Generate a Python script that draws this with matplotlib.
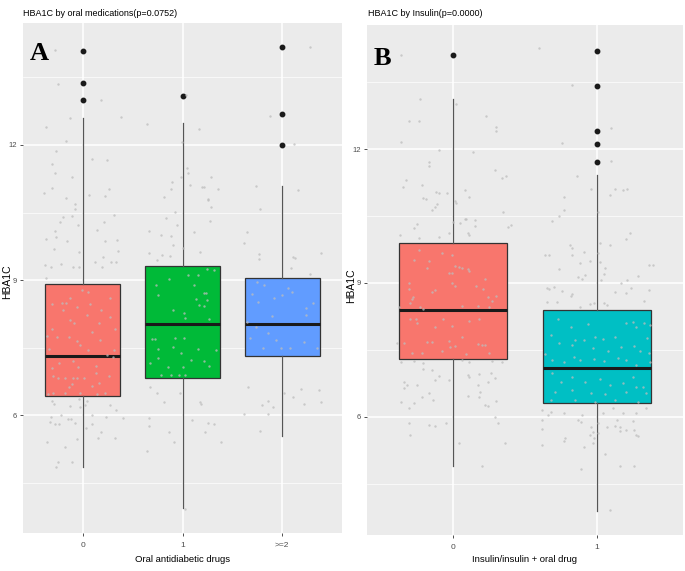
import matplotlib
matplotlib.use('Agg')
import matplotlib.pyplot as plt

# panel A: HBA1C by number of oral drugs
a_groups = ['0', '1', '>=2']
a_q1 = [6.42, 6.82, 7.31]
a_med = [7.31, 8.02, 8.02]
a_q3 = [8.92, 9.31, 9.05]
a_lo = [4.84, 3.93, 5.53]
a_hi = [12.6, 12.49, 11.09]
a_out = [[14.09, 13.38, 13.0], [13.09], [14.18, 12.69, 12.0]]
a_fill = ['#F8766D', '#00BA38', '#619CFF']

# panel B: HBA1C by insulin use
b_groups = ['0', '1']
b_q1 = [7.30, 6.30]
b_med = [8.39, 7.09]
b_q3 = [9.89, 8.39]
b_lo = [4.89, 3.88]
b_hi = [13.12, 11.42]
b_out = [[14.11], [14.2, 13.41, 12.4, 12.11, 11.7]]
b_fill = ['#F8766D', '#00BFC4']

# jittered raw points (offset from group centre, HBA1C)
a0_pts = [(-0.28,14.11),(-0.25,13.36),(0.18,13.0),(-0.13,12.6),(-0.37,12.4),(0.38,12.62),(-0.17,12.09),
          (-0.27,11.87),(-0.31,11.58),(-0.28,11.38),(-0.11,11.29),(0.09,11.69),(0.24,11.67),(-0.31,11.04),
          (-0.39,10.93),(-0.17,10.82),(0.06,10.89),(0.22,10.87),(0.26,11.02),(-0.08,10.69),(-0.08,10.58),
          (-0.11,10.42),(-0.2,10.4),(-0.23,10.29),(-0.05,10.22),(-0.28,10.09),(-0.27,9.96),(-0.37,9.91),
          (-0.16,9.87),(-0.29,9.69),(-0.04,9.62),(-0.38,9.33),(-0.32,9.29),(-0.22,9.36),(-0.1,9.29),
          (0.31,10.44),(0.21,10.29),(0.14,10.11),(0.22,9.87),(0.34,9.89),(0.35,9.64),(0.2,9.51),(0.12,9.4),
          (0.28,9.4),(0.33,9.4),(0.19,9.29),(-0.04,9.29),(-0.37,9.04),(-0.01,8.78),(0.05,8.73),(-0.13,8.6),
          (0.27,8.6),(-0.21,8.49),(-0.17,8.49),(-0.31,8.47),(0.07,8.47),(-0.06,8.4),(0.18,8.33),(-0.2,8.33),
          (0.04,8.22),(0.27,8.18),(-0.13,8.11),(-0.09,8.04),(0.16,8.04),(-0.31,7.91),(0.09,7.84),(0.32,7.91),
          (-0.36,7.76),(-0.26,7.73),(-0.14,7.73),(-0.06,7.64),(0.17,7.67),(-0.03,7.56),(0.05,7.44),
          (-0.34,7.47),(0.31,7.44),(0.24,7.33),(0.3,7.29),(-0.31,7.04),(-0.24,7.16),(-0.1,7.2),(-0.05,7.07),
          (0.13,7.09),(-0.18,6.82),(-0.1,6.82),(-0.06,6.82),(0.01,6.82),(-0.3,6.87),(-0.25,6.82),(0.26,6.87),
          (0.13,6.93),(-0.14,6.62),(-0.11,6.69),(0.09,6.64),(0.16,6.71),(-0.3,6.5),(-0.18,6.48),(-0.03,6.5),
          (0.14,6.47),(0.22,6.5),(-0.35,6.47),(-0.29,6.24),(0.27,6.22),(-0.31,6.31),(0.04,6.31),(0.02,6.22),
          (-0.04,6.36),(-0.13,6.2),(-0.03,6.18),(0.33,6.12),(-0.32,5.96),(-0.33,5.84),(-0.22,6.0),(-0.28,5.8),
          (-0.24,5.8),(-0.15,5.91),(-0.12,5.91),(-0.08,5.82),(0.03,5.71),(0.09,6.0),(0.09,5.8),(0.18,5.62),
          (0.15,5.49),(0.23,5.96),(0.32,5.49),(-0.36,5.4),(-0.06,5.47),(-0.18,5.29),(-0.25,4.96),(-0.27,4.84),
          (-0.11,4.96),(0.4,5.93)]
a1_pts = [(-0.36,12.47),(0.04,13.11),(0.17,12.36),(-0.01,12.07),(0.05,11.49),(0.06,11.38),(-0.02,11.29),
          (-0.11,11.18),(-0.12,11.02),(-0.19,10.84),(0.08,11.11),(0.2,11.07),(0.22,11.07),(0.29,11.29),
          (0.36,11.02),(0.26,10.8),(-0.08,10.51),(-0.17,10.38),(-0.06,10.22),(-0.34,10.09),(-0.22,10.0),
          (-0.12,9.98),(-0.1,9.78),(0.0,9.71),(-0.34,9.6),(-0.21,9.56),(-0.26,9.44),(-0.13,9.53),(0.26,10.78),
          (0.29,10.62),(0.28,10.31),(0.12,10.07),(0.18,9.62),(-0.27,8.89),(-0.25,8.67),(-0.14,9.02),(-0.1,8.33),
          (0.06,9.11),(0.16,9.11),(0.25,9.24),(0.32,9.22),(0.12,8.89),(0.22,8.71),(0.24,8.71),(0.14,8.58),
          (0.17,8.44),(0.22,8.42),(0.25,8.56),(0.02,8.27),(0.03,8.16),(0.27,8.13),(-0.31,7.69),(-0.28,7.69),
          (-0.08,7.71),(0.02,7.71),(-0.25,7.47),(-0.1,7.51),(-0.02,7.38),(0.16,7.47),(0.34,7.44),(-0.25,7.27),
          (-0.33,7.16),(0.22,7.2),(0.27,7.09),(-0.15,7.07),(0.0,7.07),(0.09,7.22),(-0.22,6.89),(-0.12,6.89),
          (-0.04,6.89),(0.03,6.89),(-0.33,6.62),(-0.26,6.49),(-0.03,6.49),(-0.19,6.29),(-0.34,5.93),
          (-0.34,5.76),(-0.14,5.62),(-0.09,5.4),(-0.36,5.2),(0.1,5.89),(0.23,5.62),(0.26,5.82),(0.32,5.8),
          (0.39,5.4),(0.03,3.91),(0.18,6.29),(0.19,6.24)]
a2_pts = [(0.28,14.18),(-0.12,12.64),(0.12,12.02),(-0.26,11.09),(0.16,11.0),(-0.22,10.58),(-0.35,10.07),
          (-0.38,9.82),(-0.23,9.58),(-0.23,9.47),(0.11,9.51),(0.13,9.49),(0.39,9.6),(0.09,9.27),(-0.3,8.69),
          (-0.24,8.51),(-0.08,8.6),(0.0,8.67),(0.06,8.82),(0.1,8.73),(0.24,8.38),(0.31,8.49),(-0.35,8.07),
          (-0.26,7.96),(-0.1,8.2),(0.24,8.22),(-0.32,7.71),(-0.19,7.49),(-0.14,7.82),(-0.06,7.67),(-0.01,7.49),
          (0.08,7.49),(0.22,7.62),(0.35,7.49),(-0.25,8.96),(-0.18,8.89),(0.28,9.13),(-0.34,6.62),(-0.14,6.31),
          (0.02,6.49),(0.19,6.58),(0.37,6.56),(0.11,6.4),(0.22,6.24),(-0.2,6.22),(-0.38,6.02),(-0.14,6.02),
          (-0.22,5.64),(-0.09,6.18),(0.39,6.29)]
b0_pts = [(-0.36,14.11),(-0.23,13.12),(-0.31,12.63),(-0.24,12.63),(0.02,13.0),(0.23,12.74),(0.3,12.5),
          (0.3,12.4),(-0.36,12.16),(-0.1,11.98),(0.14,11.93),(-0.17,11.7),(-0.17,11.62),(-0.33,11.3),
          (-0.35,11.15),(-0.22,11.19),(0.29,11.53),(0.34,11.35),(0.37,11.39),(-0.12,11.04),(-0.1,11.01),
          (-0.04,11.01),(0.08,11.08),(0.11,10.92),(-0.21,10.9),(-0.19,10.88),(-0.11,10.77),(-0.13,10.7),
          (-0.15,10.63),(0.01,10.83),(0.02,10.79),(0.35,10.59),(0.08,10.43),(0.09,10.43),(0.05,10.34),
          (0.15,10.41),(0.15,10.27),(0.0,10.36),(-0.25,10.32),(-0.27,10.23),(-0.37,10.07),(-0.24,10.0),
          (-0.1,10.03),(-0.03,10.12),(0.1,10.12),(0.11,10.07),(0.38,10.25),(0.4,10.3),(-0.24,9.74),(-0.08,9.67),
          (-0.01,9.62),(-0.27,9.51),(-0.17,9.49),(0.01,9.38),(0.04,9.35),(0.1,9.31),(0.11,9.26),(0.06,9.33),
          (-0.18,9.33),(-0.03,9.22),(-0.01,9.22),(-0.31,9.0),(-0.31,8.86),(-0.13,8.84),(-0.15,8.8),(-0.01,9.0),
          (0.01,8.93),(0.16,8.93),(0.21,8.86),(0.22,9.08),(0.3,8.7),(0.27,8.59),(0.24,8.68),(-0.28,8.68),
          (-0.29,8.64),(-0.3,8.55),(-0.23,8.46),(-0.21,8.41),(0.06,8.48),(0.17,8.48),(0.25,8.46),(-0.38,8.46),
          (-0.3,8.19),(-0.26,8.19),(-0.25,8.1),(-0.07,8.19),(-0.01,8.03),(-0.13,8.01),(0.11,8.14),(0.18,8.19),
          (0.06,7.78),(-0.34,7.65),(-0.18,7.67),(-0.15,7.67),(-0.03,7.7),(0.17,7.63),(0.2,7.6),(0.22,7.6),
          (-0.22,7.43),(-0.29,7.43),(-0.08,7.47),(-0.02,7.56),(0.01,7.58),(0.09,7.4),(0.25,7.43),(-0.39,7.65),
          (-0.36,7.22),(-0.27,7.25),(-0.21,7.2),(0.06,7.27),(0.11,7.22),(0.27,7.25),(0.34,7.22),(-0.21,7.07),
          (-0.15,7.04),(0.1,6.93),(0.11,6.89),(0.18,6.96),(-0.34,6.78),(-0.32,6.71),(-0.34,6.64),(-0.25,6.71),
          (-0.13,6.82),(-0.1,6.91),(-0.03,6.82),(0.17,6.71),(0.24,6.78),(0.26,6.98),(0.29,6.87),(-0.36,6.33),
          (-0.27,6.31),(-0.22,6.44),(-0.31,6.19),(0.22,6.26),(0.24,6.24),(0.18,6.44),(0.19,6.55),(-0.14,6.37),
          (-0.17,6.53),(0.1,6.46),(0.3,6.35),(-0.31,5.86),(-0.17,5.81),(-0.13,5.79),(-0.05,5.86),(-0.3,5.59),
          (0.04,5.41),(0.29,5.99),(0.31,5.86),(0.36,5.41),(0.2,4.89)]
b1_pts = [(-0.4,14.26),(-0.17,13.43),(0.1,12.47),(0.1,11.73),(-0.24,12.13),(-0.14,11.39),(-0.04,11.1),
          (0.09,10.97),(0.13,11.1),(0.18,11.08),(0.21,11.1),(-0.23,10.92),(-0.23,10.63),(-0.26,10.5),
          (-0.31,10.39),(0.01,10.59),(0.23,10.12),(0.2,9.98),(-0.19,9.85),(-0.17,9.78),(-0.17,9.62),
          (-0.36,9.62),(-0.33,9.62),(-0.12,9.44),(-0.05,9.49),(-0.09,9.69),(-0.26,9.31),(0.02,9.89),(0.01,9.67),
          (0.02,9.47),(0.09,9.85),(0.36,9.4),(0.39,9.4),(0.29,9.15),(0.17,9.0),(0.21,9.06),(-0.13,9.13),
          (-0.1,9.08),(-0.08,9.17),(0.06,9.33),(0.05,9.2),(0.03,9.06),(-0.35,8.88),(-0.33,8.86),(-0.3,8.9),
          (-0.24,8.82),(-0.28,8.57),(-0.35,8.57),(-0.18,8.7),(-0.17,8.75),(-0.12,8.46),(-0.05,8.52),(-0.02,8.55),
          (0.13,8.79),(0.2,8.77),(0.24,8.88),(0.33,8.59),(0.36,8.84),(0.05,8.55),(0.07,8.5),(-0.27,8.19),
          (-0.18,8.01),(-0.06,8.08),(-0.01,7.78),(0.04,7.74),(0.13,7.78),(0.2,8.1),(0.25,8.12),(0.27,8.01),
          (0.33,8.1),(0.35,7.76),(0.37,8.05),(-0.32,7.83),(-0.26,7.65),(-0.17,7.61),(-0.15,7.72),(-0.09,7.72),
          (-0.03,7.54),(0.08,7.47),(0.17,7.56),(0.26,7.58),(0.3,7.47),(0.36,7.43),(-0.36,7.4),(-0.31,7.27),
          (-0.23,7.22),(-0.16,7.34),(-0.12,7.27),(-0.02,7.29),(0.05,7.25),(0.15,7.31),(0.2,7.27),(0.27,7.16),
          (0.37,7.22),(-0.31,6.98),(-0.25,6.78),(-0.17,6.89),(-0.08,6.78),(0.02,6.84),(0.09,6.71),(0.18,6.75),
          (0.25,6.89),(0.32,6.66),(-0.29,6.55),(-0.17,6.6),(-0.04,6.53),(0.06,6.51),(0.2,6.55),(0.27,6.66),
          (0.34,6.53),(-0.32,6.37),(-0.15,6.37),(-0.01,6.33),(0.13,6.37),(0.29,6.33),(-0.38,6.15),(-0.32,6.1),
          (-0.23,6.08),(-0.1,6.04),(0.04,6.08),(0.11,6.19),(0.18,6.08),(0.27,6.08),(0.34,6.19),(-0.38,5.72),
          (-0.38,5.36),(-0.13,5.92),(-0.11,5.88),(-0.04,5.77),(-0.03,5.65),(-0.05,5.59),(-0.02,5.52),
          (-0.03,5.41),(-0.09,5.32),(0.01,5.86),(0.01,5.63),(0.07,5.77),(0.13,5.79),(0.16,5.77),(0.14,5.92),
          (0.16,5.68),(0.2,5.7),(0.25,5.9),(0.27,5.59),(0.29,5.57),(0.26,5.7),(-0.22,5.52),(-0.23,5.45),
          (-0.11,4.83),(0.06,5.16),(0.16,4.89),(0.26,4.89),(0.09,3.9),(-0.38,5.92),(-0.34,6.03)]

plt.rcParams['font.family'] = ['Liberation Sans', 'DejaVu Sans']

fig = plt.figure(figsize=(6.85, 5.71), dpi=100)
axA = fig.add_axes([23/685, 1-533/571, (342-23)/685, (533-23)/571])
axB = fig.add_axes([367/685, 1-535/571, (683-367)/685, (535-25)/571])


def panel(ax, groups, q1, med, q3, lo, hi, out, fills, pts, ylim):
    ax.set_facecolor('#EBEBEB')
    for s in ax.spines.values():
        s.set_visible(False)

    stats = []
    for i in range(len(groups)):
        stats.append({'med': med[i], 'q1': q1[i], 'q3': q3[i],
                      'whislo': lo[i], 'whishi': hi[i], 'fliers': out[i]})
    bp = ax.bxp(stats, positions=range(len(groups)), widths=0.75, patch_artist=True,
                showcaps=False, manage_ticks=False,
                boxprops=dict(edgecolor='#333333', lw=0.9),
                whiskerprops=dict(color='#555555', lw=0.9),
                medianprops=dict(color='#1A1A1A', lw=2.2, solid_capstyle='butt'),
                flierprops=dict(marker='o', markerfacecolor='#1A1A1A', markeredgecolor='#1A1A1A',
                                markersize=3.2))
    for patch, c in zip(bp['boxes'], fills):
        patch.set_facecolor(c)

    for i, g in enumerate(pts):
        xs = [i + p[0] for p in g]
        ys = [p[1] for p in g]
        ax.scatter(xs, ys, s=3, color='#BDBDBD', alpha=0.75, lw=0, zorder=5)

    ax.set_xlim(-0.6, len(groups) - 0.4)
    ax.set_ylim(*ylim)
    ax.set_yticks([6, 9, 12])
    ax.set_yticks([4.5, 7.5, 10.5, 13.5], minor=True)
    ax.set_xticks(range(len(groups)))
    ax.set_xticklabels(groups)
    ax.grid(True, which='major', color='white', lw=1.1)
    ax.grid(True, which='minor', axis='y', color='white', lw=0.5)
    ax.set_axisbelow(True)
    ax.tick_params(which='major', length=2.5, width=0.6, color='#333333', labelsize=5.5,
                   labelcolor='#4D4D4D', pad=2)
    ax.tick_params(axis='x', pad=4, labelsize=6)
    ax.tick_params(which='minor', length=0)


panel(axA, a_groups, a_q1, a_med, a_q3, a_lo, a_hi, a_out, a_fill,
      [a0_pts, a1_pts, a2_pts], (3.38, 14.71))
panel(axB, b_groups, b_q1, b_med, b_q3, b_lo, b_hi, b_out, b_fill,
      [b0_pts, b1_pts], (3.35, 14.78))

# titles, letters, axis titles
fig.text(23/685, 1-13/571, 'HBA1C by oral medications(p=0.0752)', fontsize=6.5, va='center', ha='left')
fig.text(368/685, 1-14/571, 'HBA1C by Insulin(p=0.0000)', fontsize=6.5, va='center', ha='left')
axA.text(0.05, 0.94, 'A', transform=axA.transAxes, family='Liberation Serif', fontweight='bold',
         fontsize=19, ha='center', va='center')
axB.text(0.05, 0.935, 'B', transform=axB.transAxes, family='Liberation Serif', fontweight='bold',
         fontsize=19, ha='center', va='center')
fig.text(7/685, 1-282/571, 'HBA1C', rotation=90, fontsize=7.5, va='center', ha='center')
fig.text(351/685, 1-286/571, 'HBA1C', rotation=90, fontsize=7.5, va='center', ha='center')
fig.text(183/685, 1-559/571, 'Oral antidiabetic drugs', fontsize=6.8, va='center', ha='center')
fig.text(524/685, 1-559/571, 'Insulin/insulin + oral drug', fontsize=6.8, va='center', ha='center')

fig.savefig('out.png', dpi=100)
